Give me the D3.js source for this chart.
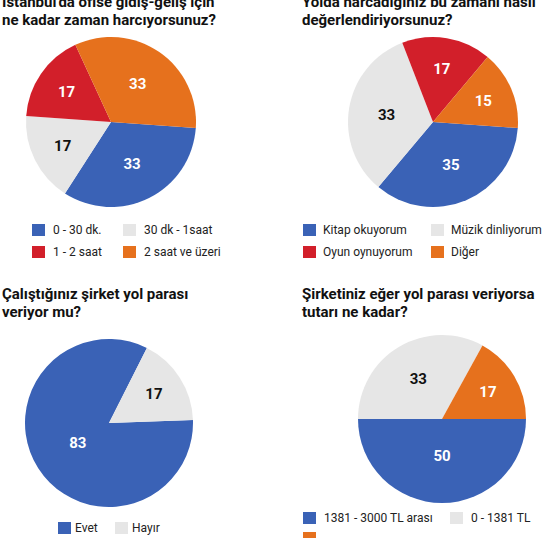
<!DOCTYPE html>
<html>
<head>
<meta charset="utf-8">
<script src="https://cdn.jsdelivr.net/npm/d3@7"></script>
<style>
  body { margin: 0; background: #fff; }
  svg { display: block; font-family: Roboto, "Liberation Sans", sans-serif; }
  .title { font-size: 15px; font-weight: 700; fill: #111; }
  .legend text { font-size: 12px; fill: #222; }
  .value { font-size: 15px; font-weight: 700; }
</style>
</head>
<body>
<script>
// survey answers, in percent
const commuteLabels = ["0 - 30 dk.", "30 dk - 1saat", "1 - 2 saat", "2 saat ve üzeri"];
const commuteValues = [33, 17, 17, 33];

const activityLabels = ["Kitap okuyorum", "Müzik dinliyorum", "Oyun oynuyorum", "Diğer"];
const activityValues = [35, 33, 17, 15];

const allowanceLabels = ["Evet", "Hayır"];
const allowanceValues = [83, 17];

const amountLabels = ["1381 - 3000 TL arası", "0 - 1381 TL", "3000 TL üzeri"];
const amountValues = [50, 33, 17];

const titles = [
  ["İstanbul'da ofise gidiş-geliş için", "ne kadar zaman harcıyorsunuz?"],
  ["Yolda harcadığınız bu zamanı nasıl", "değerlendiriyorsunuz?"],
  ["Çalıştığınız şirket yol parası", "veriyor mu?"],
  ["Şirketiniz eğer yol parası veriyorsa", "tutarı ne kadar?"]
];

const blue = '#3a62b6', gray = '#e6e6e6', red = '#d21f2a', orange = '#e6711d';

const width = 551;
const height = 538;

const svg = d3.select('body').append('svg')
  .attr('viewBox', [0, 0, width, height])
  .attr('width', width)
  .attr('height', height);

// layout of the four panels
const panels = [
  { labels: commuteLabels, values: commuteValues, title: titles[0], colors: [blue, gray, red, orange],
    tx: 2, ty: 7, cx: 111, cy: 122, r: 85, start: 94,
    legendX: [32, 123], legendY: [224, 246], textDx: 21 },
  { labels: activityLabels, values: activityValues, title: titles[1], colors: [blue, gray, red, orange],
    tx: 302, ty: 7, cx: 433, cy: 122, r: 85, start: 94,
    legendX: [303, 431], legendY: [224, 246], textDx: 20 },
  { labels: allowanceLabels, values: allowanceValues, title: titles[2], colors: [blue, gray],
    tx: 2, ty: 299, cx: 109, cy: 423, r: 84, start: 88,
    legendX: [58, 115], legendY: [522], textDx: 17 },
  { labels: amountLabels, values: amountValues, title: titles[3], colors: [blue, gray, orange],
    tx: 302, ty: 299, cx: 442, cy: 419, r: 84, start: 90,
    legendX: [303, 450], legendY: [512, 532], textDx: 21 }
];

panels.forEach(p => {
  const g = svg.append('g');

  g.append('text')
    .attr('class', 'title')
    .selectAll('tspan')
    .data(p.title)
    .join('tspan')
      .attr('x', p.tx)
      .attr('y', (d, i) => p.ty + i * 18)
      .text(d => d);

  const color = d3.scaleOrdinal().domain(p.labels).range(p.colors);
  const a0 = p.start * Math.PI / 180;
  const pie = d3.pie().sort(null).startAngle(a0).endAngle(a0 + 2 * Math.PI);
  const arcs = pie(p.values).map((a, i) => Object.assign(a, { label: p.labels[i] }));

  const arc = d3.arc().innerRadius(0).outerRadius(p.r);

  // value sits near the slice's area centroid, never too close to the centre
  const labelPos = d => {
    const half = (d.endAngle - d.startAngle) / 2;
    const dist = Math.max(2 * p.r * Math.sin(half) / (3 * half), 0.44 * p.r);
    return d3.arc().innerRadius(dist).outerRadius(dist).centroid(d);
  };

  const pieG = g.append('g').attr('transform', `translate(${p.cx},${p.cy})`);

  pieG.selectAll('path')
    .data(arcs)
    .join('path')
      .attr('d', arc)
      .attr('fill', d => color(d.label));

  pieG.selectAll('text')
    .data(arcs)
    .join('text')
      .attr('class', 'value')
      .attr('transform', d => `translate(${labelPos(d)})`)
      .attr('text-anchor', 'middle')
      .attr('dy', '0.35em')
      .attr('fill', d => color(d.label) === gray ? '#111' : '#fff')
      .text(d => d.value);

  const legend = g.append('g').attr('class', 'legend')
    .selectAll('g')
    .data(p.labels)
    .join('g')
      .attr('transform', (d, i) => `translate(${p.legendX[i % 2]},${p.legendY[Math.floor(i / 2)]})`);

  legend.append('rect')
    .attr('width', 13)
    .attr('height', 12)
    .attr('fill', d => color(d));

  // rows that fall below the picture only show their swatch
  legend.filter((d, i) => p.legendY[Math.floor(i / 2)] + 12 <= height)
    .append('text')
      .attr('x', p.textDx)
      .attr('y', 6)
      .attr('dy', '0.35em')
      .text(d => d);
});
</script>
</body>
</html>
